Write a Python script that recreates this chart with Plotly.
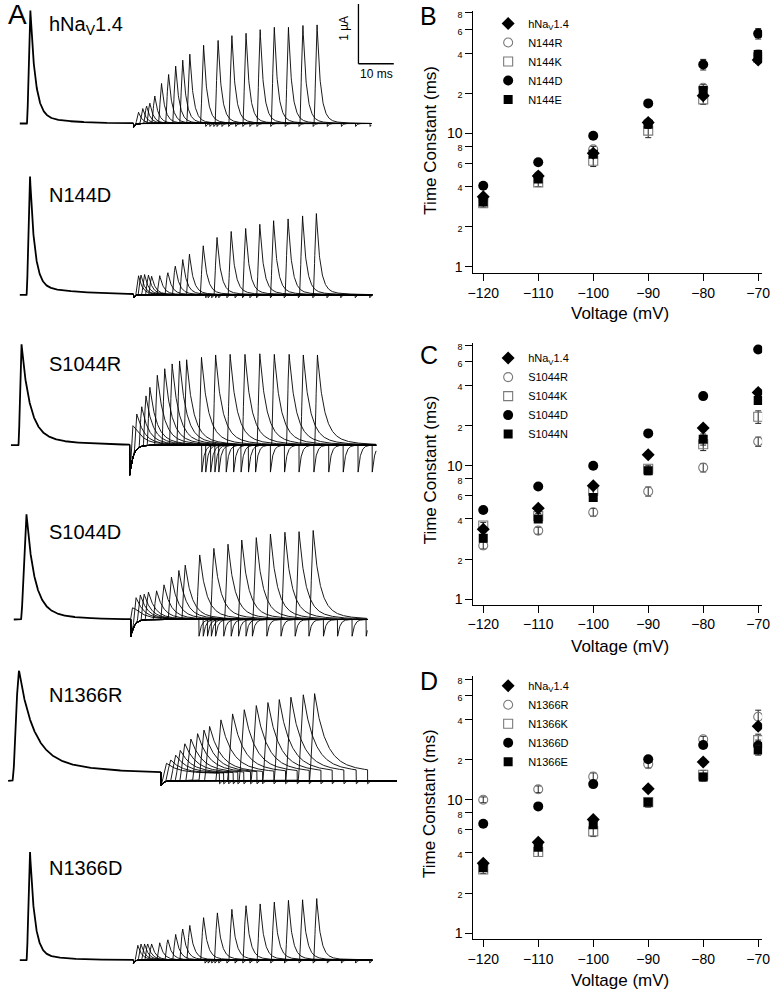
import numpy as np
import plotly.graph_objects as go

W, H = 777, 992
FONT = "Liberation Sans, Arial, sans-serif"

# ---------------- Right-hand panels (B, C, D): recovery time constants ----------------
VOLTAGES = [-120, -110, -100, -90, -80, -70]
HNAV14_TAU = [3.35, 4.8, 7.1, 12.1, 19.2, 35.5]
HNAV14_ERR = [0.15, 0.2, 0.3, 0.6, 1.0, 2.0]

# Panel B
N144R_TAU = [3.2, 4.8, 7.6, 12.0, 22.0, 39.0]
N144R_ERR = [0.1, 0.2, 0.4, 0.5, 1.2, 2.0]
N144K_TAU = [3.0, 4.3, 6.25, 10.5, 18.0, 37.0]
N144K_ERR = [0.2, 0.3, 0.6, 1.2, 1.5, 3.0]
N144D_TAU = [4.06, 6.08, 9.6, 16.8, 32.9, 56.0]
N144D_ERR = [0.15, 0.25, 0.4, 0.8, 3.0, 5.0]
N144E_TAU = [3.06, 4.56, 7.0, 11.7, 21.0, 39.0]
N144E_ERR = [0.15, 0.2, 0.3, 0.8, 1.5, 3.0]

# Panel C
S1044R_TAU = [2.53, 3.27, 4.49, 6.43, 9.7, 15.2]
S1044R_ERR = [0.15, 0.2, 0.3, 0.5, 0.7, 1.2]
S1044K_TAU = [3.57, 4.2, 6.5, 9.5, 14.5, 23.3]
S1044K_ERR = [0.2, 0.2, 0.3, 0.6, 1.5, 2.5]
S1044D_TAU = [4.67, 7.0, 10.0, 17.5, 33.3, 74.3]
S1044D_ERR = [0.2, 0.3, 0.4, 0.8, 1.5, 3.0]
S1044N_TAU = [2.87, 4.0, 5.8, 9.18, 15.8, 30.9]
S1044N_ERR = [0.15, 0.2, 0.3, 0.6, 1.5, 2.0]

# Panel D
N1366R_TAU = [10.0, 12.0, 14.9, 18.5, 28.4, 41.9]
N1366R_ERR = [0.5, 0.7, 1.0, 1.2, 1.5, 5.0]
N1366K_TAU = [3.0, 4.06, 5.8, 9.6, 15.4, 28.0]
N1366K_ERR = [0.2, 0.3, 0.5, 0.8, 1.2, 3.0]
N1366D_TAU = [6.62, 8.92, 13.1, 20.1, 25.7, 25.5]
N1366D_ERR = [0.3, 0.4, 0.7, 1.0, 1.5, 2.5]
N1366E_TAU = [3.09, 4.4, 6.5, 9.6, 14.8, 23.6]
N1366E_ERR = [0.15, 0.2, 0.3, 0.5, 1.0, 2.0]

Y_TICK_VALS = [1, 2, 4, 6, 8, 10, 20, 40, 60, 80]
Y_TICK_TEXT = ["1", "2", "4", "6", "8", "10", "2", "4", "6", "8"]
X_TICK_VALS = [-120, -110, -100, -90, -80, -70]

# ---------------- Left-hand panel (A): current traces (time in ms, current in µA) ----------------
TRACE_NAMES = ["hNa<sub>V</sub>1.4", "N144D", "S1044R", "S1044D", "N1366R", "N1366D"]
TRACE_START_MS = [3.9, 3.9, 1.4, 2.2, 0.6, 3.9]
TRACE_END_MS = [103.3, 103.6, 104.7, 102.2, 110.6, 103.6]
TRACE_REPOL_MS = [36.1, 36.1, 35.0, 35.3, 43.9, 36.1]
PRE_PEAK_MS = [6.9, 6.8, 4.4, 5.8, 3.7, 6.8]
PRE_PEAK_UA = [1.89, 1.98, 1.69, 1.76, 1.72, 1.81]

HNAV_TEST_MS = [37.5, 38.7, 39.8, 40.7, 42.1, 44.0, 46.0, 48.0, 50.0, 52.0, 55.9, 60.0, 63.9, 67.9, 71.9, 75.9, 79.9, 84.0, 88.0]
HNAV_TEST_UA = [0.19, 0.25, 0.29, 0.34, 0.46, 0.67, 0.82, 0.96, 1.06, 1.16, 1.31, 1.39, 1.47, 1.51, 1.57, 1.61, 1.61, 1.64, 1.65]
N144D_TEST_MS = [37.5, 38.2, 39.2, 40.3, 41.2, 43.5, 45.8, 47.9, 50.0, 51.9, 55.8, 59.7, 63.7, 67.8, 71.8, 75.7, 79.8, 83.9, 87.8]
N144D_TEST_UA = [0.32, 0.33, 0.34, 0.33, 0.31, 0.32, 0.37, 0.48, 0.59, 0.68, 0.82, 0.96, 1.06, 1.11, 1.18, 1.24, 1.27, 1.32, 1.36]
S1044R_TEST_MS = [35.9, 37.0, 38.4, 39.6, 40.7, 42.8, 44.9, 47.0, 49.1, 51.1, 55.3, 59.3, 63.4, 67.6, 71.8, 75.9, 80.1, 84.1, 88.1]
S1044R_TEST_UA = [0.53, 0.59, 0.66, 0.83, 0.97, 1.17, 1.28, 1.36, 1.41, 1.43, 1.47, 1.51, 1.52, 1.52, 1.53, 1.52, 1.52, 1.51, 1.51]
S1044D_TEST_MS = [35.6, 36.8, 38.0, 39.1, 40.3, 42.6, 44.7, 46.8, 48.9, 50.7, 54.8, 58.8, 62.8, 66.7, 70.8, 74.8, 78.9, 82.9, 86.9]
S1044D_TEST_UA = [0.41, 0.43, 0.43, 0.43, 0.46, 0.48, 0.58, 0.71, 0.82, 0.91, 1.08, 1.19, 1.26, 1.33, 1.37, 1.43, 1.46, 1.47, 1.49]
N1366R_TEST_MS = [45.4, 46.6, 48.0, 49.3, 50.6, 52.3, 54.2, 56.0, 57.6, 60.8, 64.1, 67.4, 70.8, 74.1, 77.3, 80.6, 84.1, 87.3]
N1366R_TEST_UA = [0.18, 0.23, 0.31, 0.39, 0.50, 0.58, 0.67, 0.73, 0.79, 0.90, 1.00, 1.07, 1.14, 1.19, 1.24, 1.28, 1.32, 1.34]
N1366D_TEST_MS = [37.3, 38.2, 39.2, 40.1, 41.2, 43.5, 45.8, 48.0, 50.0, 52.0, 55.9, 59.8, 63.9, 67.9, 71.9, 75.9, 79.9, 83.9, 87.9]
N1366D_TEST_UA = [0.25, 0.27, 0.27, 0.27, 0.27, 0.29, 0.34, 0.43, 0.52, 0.58, 0.71, 0.79, 0.85, 0.91, 0.94, 0.97, 1.00, 1.01, 1.03]

TEST_PEAKS_MS = [HNAV_TEST_MS, N144D_TEST_MS, S1044R_TEST_MS, S1044D_TEST_MS, N1366R_TEST_MS, N1366D_TEST_MS]
TEST_PEAKS_UA = [HNAV_TEST_UA, N144D_TEST_UA, S1044R_TEST_UA, S1044D_TEST_UA, N1366R_TEST_UA, N1366D_TEST_UA]

# kinetic shape of each recorded transient (rendering parameters, ms / fraction / µA)
KIN = [
    dict(rise=0.9, pre_tf=1.4, pre_ts=9, pre_fs=0.07, tf=1.0, ts=4, fs=0.05, plat=0.0, dur=19, tick=0.05, ttau=0.4, rdepth=0.06, rtau=0.4, prise=1.0),
    dict(rise=0.9, pre_tf=1.3, pre_ts=12, pre_fs=0.08, tf=1.1, ts=5, fs=0.06, plat=0.0, dur=19, tick=0.05, ttau=0.4, rdepth=0.05, rtau=0.4, prise=1.0),
    dict(rise=0.8, pre_tf=2.3, pre_ts=10, pre_fs=0.12, tf=1.8, ts=6, fs=0.15, plat=0.0, dur=19.5, tick=0.45, ttau=0.7, rdepth=0.5, rtau=1.0, prise=0.9),
    dict(rise=1.0, pre_tf=2.2, pre_ts=8, pre_fs=0.12, tf=1.8, ts=6, fs=0.15, plat=0.0, dur=19, tick=0.28, ttau=0.7, rdepth=0.29, rtau=1.0, prise=1.6),
    dict(rise=1.5, pre_tf=4.0, pre_ts=16, pre_fs=0.18, tf=3.0, ts=12, fs=0.15, plat=0.12, dur=15, tick=0.05, ttau=0.5, rdepth=0.08, rtau=0.6, prise=1.9),
    dict(rise=0.9, pre_tf=1.3, pre_ts=8, pre_fs=0.06, tf=1.1, ts=5, fs=0.06, plat=0.0, dur=19, tick=0.05, ttau=0.4, rdepth=0.05, rtau=0.4, prise=1.0),
]

# pixel layout of the six trace strips (top, bottom, baseline) in the 777x992 canvas
STRIPS = [(0, 160, 123), (160, 320, 295), (320, 480, 446), (480, 650, 621), (650, 810, 783), (810, 992, 963)]
UA_PER_PX = 1 / 60.0
MS_PER_PX = 1 / 3.6
LEFT_W = 400


def transient(t, peak_t, amp, rise, tau_f, tau_s, frac_s):
    y = np.zeros_like(t)
    onset = peak_t - rise
    m = (t >= onset) & (t < peak_t)
    x = (t[m] - onset) / rise
    y[m] = amp * x * x * (3 - 2 * x)
    m2 = t >= peak_t
    dt = t[m2] - peak_t
    y[m2] = amp * ((1 - frac_s) * np.exp(-dt / tau_f) + frac_s * np.exp(-dt / tau_s))
    return y


fig = go.Figure()
layout_axes = {}
annotations = []
shapes = []

for i in range(6):
    k = KIN[i]
    top, bot, base = STRIPS[i]
    ax = "" if i == 0 else str(i + 1)
    layout_axes["xaxis" + ax] = dict(domain=[0, LEFT_W / W], range=[0, LEFT_W * MS_PER_PX], visible=False,
                                     anchor="y" + ax, fixedrange=True)
    layout_axes["yaxis" + ax] = dict(domain=[1 - bot / H, 1 - top / H],
                                     range=[-(bot - base) * UA_PER_PX, (base - top) * UA_PER_PX],
                                     visible=False, anchor="x" + ax, fixedrange=True)
    t0, t1, tr = TRACE_START_MS[i], TRACE_END_MS[i], TRACE_REPOL_MS[i]
    # prepulse segment
    tp = np.union1d(np.arange(t0, tr, 0.05), [PRE_PEAK_MS[i]])
    yp = transient(tp, PRE_PEAK_MS[i], PRE_PEAK_UA[i], k["prise"], k["pre_tf"], k["pre_ts"], k["pre_fs"])
    on = PRE_PEAK_MS[i] - k["prise"]
    yp = yp + k["plat"] * np.clip((tp - on) / k["prise"], 0, 1)
    fig.add_trace(go.Scatter(x=np.round(tp, 3), y=np.round(yp, 4), mode="lines", xaxis="x" + ax, yaxis="y" + ax,
                             line=dict(color="black", width=1.8), showlegend=False, hoverinfo="skip"))
    # recovery sweeps
    xs, ys = [], []
    pre_end = float(yp[-1])
    for pk, amp in zip(TEST_PEAKS_MS[i], TEST_PEAKS_UA[i]):
        te = pk + k["dur"]
        t = np.union1d(np.arange(tr, t1, 0.06), [tr, pk, t1] + ([te] if te < t1 else []))
        y = -k["rdepth"] * np.exp(-(t - tr) / k["rtau"])
        tt = transient(t, pk, amp, k["rise"], k["tf"], k["ts"], k["fs"])
        onset = pk - k["rise"]
        plat = k["plat"] * np.clip((t - onset) / k["rise"], 0, 1)
        live = t < te
        y = y + (tt + plat) * live
        if te < t1:
            post = t >= te
            y[post] += -k["tick"] * np.exp(-(t[post] - te) / k["ttau"])
        xs.extend([tr - 0.05] + list(np.round(t, 3)) + [np.nan])
        ys.extend([pre_end] + list(np.round(y, 4)) + [np.nan])
    fig.add_trace(go.Scatter(x=xs, y=ys, mode="lines", xaxis="x" + ax, yaxis="y" + ax,
                             line=dict(color="black", width=0.9), showlegend=False, hoverinfo="skip",
                             connectgaps=False))
    # label
    label_y = [25, 195, 364, 533, 697, 871][i]
    annotations.append(dict(text=TRACE_NAMES[i], x=42 / W, y=1 - label_y / H, xref="paper", yref="paper",
                            xanchor="left", yanchor="middle", showarrow=False,
                            font=dict(family=FONT, size=20, color="black")))

# scale bar (panel A, first strip): 10 ms x 1 µA
SCALE_T0 = 99.7
shapes.append(dict(type="line", xref="x", yref="y", x0=SCALE_T0, x1=SCALE_T0, y0=1.0, y1=2.0,
                   line=dict(color="black", width=1.3)))
shapes.append(dict(type="line", xref="x", yref="y", x0=SCALE_T0, x1=SCALE_T0 + 10, y0=1.0, y1=1.0,
                   line=dict(color="black", width=1.3)))
annotations.append(dict(text="1 µA", x=95.6, y=1.6, xref="x", yref="y", textangle=-90, showarrow=False,
                        font=dict(family=FONT, size=12, color="black")))
annotations.append(dict(text="10 ms", x=104.7, y=0.83, xref="x", yref="y", showarrow=False,
                        font=dict(family=FONT, size=12, color="black")))

# ---------------- right panels ----------------
PANELS = [
    dict(letter="B", top=10, bot=273, one=267, names=["N144R", "N144K", "N144D", "N144E"],
         tau=[N144R_TAU, N144K_TAU, N144D_TAU, N144E_TAU], err=[N144R_ERR, N144K_ERR, N144D_ERR, N144E_ERR],
         letter_y=15, leg_top=8, ytitle_y=140, xtitle_y=314),
    dict(letter="C", top=343, bot=606, one=600.7, names=["S1044R", "S1044K", "S1044D", "S1044N"],
         tau=[S1044R_TAU, S1044K_TAU, S1044D_TAU, S1044N_TAU], err=[S1044R_ERR, S1044K_ERR, S1044D_ERR, S1044N_ERR],
         letter_y=355, leg_top=344, ytitle_y=471, xtitle_y=648),
    dict(letter="D", top=678, bot=942, one=936, names=["N1366R", "N1366K", "N1366D", "N1366E"],
         tau=[N1366R_TAU, N1366K_TAU, N1366D_TAU, N1366E_TAU], err=[N1366R_ERR, N1366K_ERR, N1366D_ERR, N1366E_ERR],
         letter_y=683, leg_top=673, ytitle_y=806, xtitle_y=983),
]
STYLES = [
    dict(symbol="circle-open", size=9, color="#7a7a7a", lw=1.1),
    dict(symbol="square-open", size=9, color="#7a7a7a", lw=1.1),
    dict(symbol="circle", size=10, color="black", lw=0),
    dict(symbol="square", size=9, color="black", lw=0),
]
DECADE_PX = 134.0
AX_L, AX_R = 476, 770
X_AT_M120, PX_PER_MV = 486, 5.6

small = '<span style="font-size:9px">{}</span>'
ytext = [t if v in (1, 10) else small.format(t) for v, t in zip(Y_TICK_VALS, Y_TICK_TEXT)]

for j, p in enumerate(PANELS):
    n = 7 + j
    xa, ya = "x%d" % n, "y%d" % n
    leg = "legend" if j == 0 else "legend%d" % (j + 1)
    layout_axes["xaxis%d" % n] = dict(
        domain=[AX_L / W, AX_R / W],
        range=[-120 - (X_AT_M120 - AX_L) / PX_PER_MV, -120 + (AX_R - X_AT_M120) / PX_PER_MV],
        anchor=ya, showline=True, linecolor="black", linewidth=1, ticks="outside", ticklen=7, tickwidth=1,
        tickcolor="black", tickvals=X_TICK_VALS, showgrid=False, zeroline=False, ticklabeloverflow="allow",
        tickfont=dict(family=FONT, size=14, color="black"), fixedrange=True)
    layout_axes["yaxis%d" % n] = dict(
        domain=[1 - p["bot"] / H, 1 - p["top"] / H], type="log",
        range=[-(p["bot"] - p["one"]) / DECADE_PX, (p["one"] - p["top"]) / DECADE_PX],
        anchor=xa, showline=True, linecolor="black", linewidth=1, ticks="outside", ticklen=7, tickwidth=1,
        tickcolor="black", tickvals=Y_TICK_VALS, ticktext=ytext, showgrid=False, zeroline=False,
        tickfont=dict(family=FONT, size=14, color="black"), fixedrange=True)
    for s, (name, tau, err) in enumerate(zip(p["names"], p["tau"], p["err"])):
        st = STYLES[s]
        fig.add_trace(go.Scatter(
            x=VOLTAGES, y=tau, mode="markers", name=name, xaxis=xa, yaxis=ya, legend=leg, legendrank=s + 2,
            marker=dict(symbol=st["symbol"], size=st["size"], color=st["color"],
                        line=dict(color=st["color"], width=st["lw"])),
            error_y=dict(type="data", array=err, color="#222", thickness=1, width=3)))
    fig.add_trace(go.Scatter(
        x=VOLTAGES, y=HNAV14_TAU, mode="markers", name="hNa<sub>V</sub>1.4", xaxis=xa, yaxis=ya, legend=leg,
        legendrank=1, marker=dict(symbol="diamond", size=10, color="black"),
        error_y=dict(type="data", array=HNAV14_ERR, color="#222", thickness=1, width=3)))
    layout_axes[leg] = dict(x=491 / W, y=1 - p["leg_top"] / H, xanchor="left", yanchor="top",
                            bgcolor="rgba(0,0,0,0)", borderwidth=0, tracegroupgap=0,
                            font=dict(family=FONT, size=11, color="black"), itemwidth=30)
    annotations.append(dict(text=p["letter"], x=420 / W, y=1 - p["letter_y"] / H, xref="paper", yref="paper",
                            xanchor="left", yanchor="middle", showarrow=False,
                            font=dict(family=FONT, size=25, color="black")))
    annotations.append(dict(text="Time Constant (ms)", x=432 / W, y=1 - p["ytitle_y"] / H, xref="paper",
                            yref="paper", textangle=-90, showarrow=False, xanchor="center", yanchor="middle",
                            font=dict(family=FONT, size=17, color="black")))
    annotations.append(dict(text="Voltage (mV)", x=625 / W, y=1 - p["xtitle_y"] / H, xref="paper",
                            yref="paper", showarrow=False, xanchor="center", yanchor="middle",
                            font=dict(family=FONT, size=17, color="black")))

annotations.append(dict(text="A", x=0, y=1 - 14 / H, xref="paper", yref="paper", xanchor="left",
                        yanchor="middle", showarrow=False, font=dict(family=FONT, size=28, color="black")))

fig.update_layout(width=W, height=H, margin=dict(l=0, r=0, t=0, b=0), paper_bgcolor="white",
                  plot_bgcolor="rgba(0,0,0,0)", font=dict(family=FONT, color="black"),
                  annotations=annotations, shapes=shapes, **layout_axes)
fig.write_html("out.html", config={"displayModeBar": False},
               post_script="document.body.style.margin='0px';document.body.style.overflow='hidden';")
